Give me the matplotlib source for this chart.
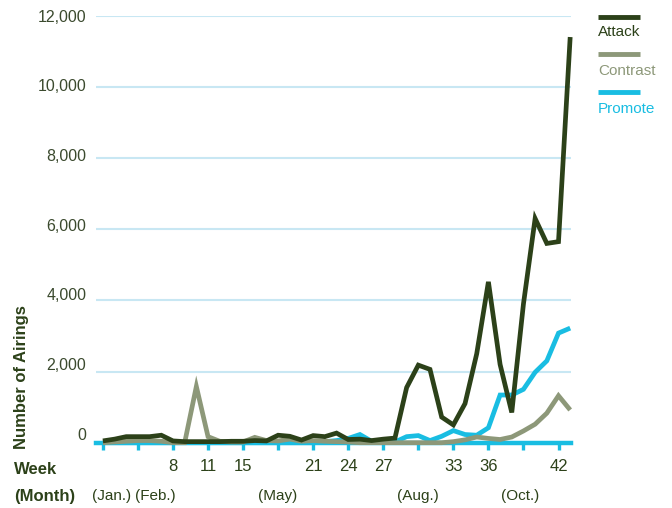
import numpy as np
import matplotlib
matplotlib.use("Agg")
import matplotlib.pyplot as plt
from matplotlib.lines import Line2D
from matplotlib.transforms import ScaledTranslation, blended_transform_factory

# Weekly airings per ad tone (41 consecutive weeks)
attack = [50, 100, 170, 170, 170, 210, 50, 30, 30, 30, 30, 40, 40, 60, 50,
          210, 180, 75, 200, 170, 270, 90, 100, 60, 100, 130,
          1550, 2180, 2060, 720, 500, 1100, 2500, 4520, 2200, 850,
          3900, 6300, 5600, 5650, 11400]
contrast = [0, 20, 40, 60, 60, 40, 0, 0, 1580, 170, 40, 20, 20, 150, 60,
            50, 100, 40, 60, 40, 30, 20, 0, 0, 0, 0,
            0, 0, 0, 0, 30, 80, 160, 120, 90, 160,
            330, 520, 830, 1320, 920]
promote = [0, 0, 0, 0, 0, 0, 0, 0, 0, 0, 0, 0, 0, 0, 0,
           0, 0, 0, 0, 30, 60, 120, 230, 40, 0, 20,
           170, 200, 60, 180, 340, 230, 210, 420, 1340, 1340,
           1500, 1980, 2300, 3080, 3220]

series_names = ["Attack", "Contrast", "Promote"]
series_colors = ["#2c4119", "#8d9879", "#19bde2"]

# x-axis: a tick every third week, only some of them labelled
tick_every = 3
week_labels = ["", "", "8", "11", "15", "", "21", "24", "27", "", "33", "36", "", "42"]
month_labels = ["(Jan.)", "(Feb.)", "(May)", "(Aug.)", "(Oct.)"]
month_pos = [0.73, 4.5, 14.93, 26.95, 35.74]

y_ticks = [0, 2000, 4000, 6000, 8000, 10000, 12000]

dark = "#2c4119"
tick_text = "#3b4a2e"
grid_col = "#c8e7f3"
font = ["Liberation Sans", "DejaVu Sans"]
plt.rcParams["font.family"] = font

W, H = 672, 508
fig = plt.figure(figsize=(W / 100, H / 100), dpi=100)
left_px, right_px, top_px, zero_px = 96, 571, 15.7, 442.7
ax = fig.add_axes([left_px / W, (H - zero_px) / H,
                   (right_px - left_px) / W, (zero_px - top_px) / H])

x = np.arange(len(attack))
ax.set_xlim(-0.59, 40.07)
ax.set_ylim(0, 12000)

# horizontal grid lines
for v in y_ticks[1:]:
    ax.axhline(v, color=grid_col, lw=1.5, zorder=0)

for vals, col, z in zip([promote, contrast, attack], series_colors[::-1], [3, 4, 5]):
    ax.plot(x, vals, color=col, lw=3.4, solid_joinstyle="miter",
            solid_capstyle="butt", zorder=z, clip_on=False)

# spines
for s in ["left", "right", "top"]:
    ax.spines[s].set_visible(False)
ax.spines["bottom"].set_color(series_colors[2])
ax.spines["bottom"].set_linewidth(3.2)
ax.spines["bottom"].set_zorder(2)

ticks = np.arange(0, len(attack) - 1, tick_every)
ax.set_xticks(ticks, week_labels)
ax.tick_params(axis="x", direction="out", length=4.8, width=2.4,
               color=series_colors[2], pad=7, labelsize=12, labelcolor=dark)

ax.set_yticks(y_ticks, [f"{v:,}" for v in y_ticks])
ax.tick_params(axis="y", length=0, pad=7, labelsize=11.5, labelcolor=tick_text)
for lab, v in zip(ax.get_yticklabels(), y_ticks):
    shift = 6.5 * (1 - v / 12000) / 72
    lab.set_transform(lab.get_transform() + ScaledTranslation(0, shift, fig.dpi_scale_trans))

# axis titles
fig.text(22 / W, 1 - 377 / H, "Number of Airings", rotation=90, ha="center", va="center",
         fontsize=12, fontweight="bold", color=dark)
fig.text(14 / W, 1 - 470 / H, "Week", ha="left", va="center",
         fontsize=12, fontweight="bold", color=dark)
fig.text(14 / W, 1 - 496 / H, "(Month)", ha="left", va="center",
         fontsize=12, fontweight="bold", color=dark)

# month labels under the week labels
trans = blended_transform_factory(ax.transData, fig.transFigure)
for pos, lab in zip(month_pos, month_labels):
    ax.text(pos, 1 - 496 / H, lab, transform=trans, ha="center", va="center",
            fontsize=11, color=dark)

# legend: short swatch above each coloured label
for i, (name, col) in enumerate(zip(series_names, series_colors)):
    y_line = 16.7 + i * 37.7
    y_text = 32.5 + i * 38.3
    fig.add_artist(Line2D([598 / W, 640 / W], [1 - y_line / H, 1 - y_line / H],
                          transform=fig.transFigure, color=col, lw=3.5,
                          solid_capstyle="butt"))
    fig.text(598 / W, 1 - y_text / H, name, ha="left", va="center",
             fontsize=11, color=col)

fig.savefig("out.png", dpi=100)
